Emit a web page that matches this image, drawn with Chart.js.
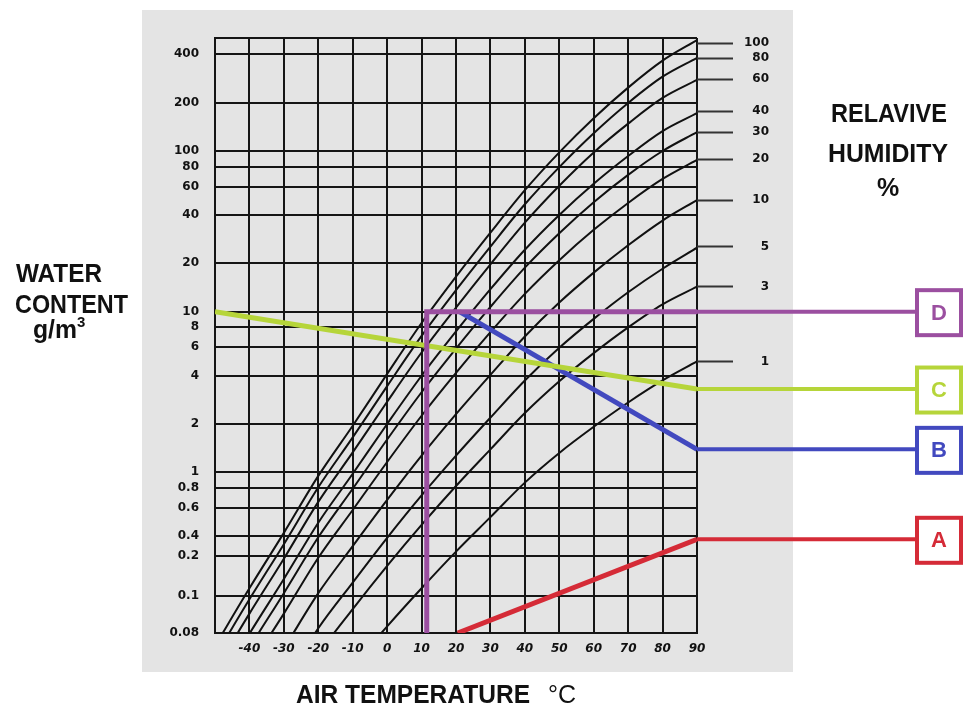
<!DOCTYPE html>
<html><head><meta charset="utf-8">
<script src="https://cdn.jsdelivr.net/npm/chart.js@4/dist/chart.umd.min.js"></script>
<style>html,body{margin:0;padding:0;background:#fff}#wrap{width:964px;height:709px;position:relative}</style>
</head><body><div id="wrap"><canvas id="c" width="964" height="709"></canvas></div>
<script>
// ---------- data ----------
const temperatureC = [-50,-40,-30,-20,-10,0,10,20,30,40,50,60,70,80,90];
const rh100 = [0.083,0.19,0.42,0.95,1.95,4.1,8.5,16.5,31,57,98,160,248,365,490];
const rh80  = [0.071,0.162,0.357,0.807,1.65,3.44,7.06,13.6,25.4,46.6,79.4,129,199,290,380];
const rh60  = [0.058,0.132,0.29,0.655,1.33,2.75,5.57,10.6,19.7,35.8,60.8,98,148,214,277];
const rh40  = [0.0437,0.099,0.217,0.486,0.98,2.0,3.99,7.53,13.8,24.3,40,62.5,93,133,172];
const rh30  = [0.0357,0.081,0.177,0.394,0.79,1.6,3.15,5.89,10.7,18.8,30.8,48,71,100,131];
const rh20  = [0.027,0.061,0.132,0.294,0.583,1.16,2.25,4.16,7.45,12.9,20.9,32.3,47.5,67,88];
const rh10  = [0.0166,0.037,0.08,0.177,0.347,0.673,1.27,2.3,4.04,7.01,11.4,17.5,25.9,36.9,49.5];
const rh5   = [0.0102,0.0226,0.0485,0.107,0.206,0.391,0.718,1.27,2.19,3.73,5.96,9.02,13.2,18.5,25];
const rh3   = [0.0071,0.0158,0.0337,0.0735,0.141,0.262,0.471,0.822,1.39,2.34,3.69,5.52,7.98,11.1,14.3];
const rh1   = [0.0033,0.0072,0.0152,0.033,0.0617,0.11,0.19,0.321,0.526,0.863,1.32,1.92,2.72,3.73,4.9];
const rhCurves = [rh100,rh80,rh60,rh40,rh30,rh20,rh10,rh5,rh3,rh1];

const rhLabels     = ['100','80','60','40','30','20','10','5','3','1'];
const rhTickValues = [470,379,280,177,131,89,49.5,25.3,14.3,4.87];

const yTickValues = [505,400,200,100,80,60,40,20,10,8,6,4,2,1,0.8,0.6,0.4,0.3,0.17,0.1];
const yTickLabels = ['','400','200','100','80','60','40','20','10','8','6','4','2','1','0.8','0.6','0.4','0.2','0.1','0.08'];
const xTickValues = [-50,-40,-30,-20,-10,0,10,20,30,40,50,60,70,80,90];
const xTickLabels = ['','-40','-30','-20','-10','0','10','20','30','40','50','60','70','80','90'];

// annotation paths A-D
const pathD_T = [11.5, 11.5, 90];   const pathD_W = [0.1, 10, 10];
const pathC_T = [-50, 90];          const pathC_W = [10, 3.3];
const pathB_T = [21, 90];           const pathB_W = [10, 1.39];
const pathA_T = [20.5, 90];         const pathA_W = [0.1, 0.383];
const annotationLetters = ['D','C','B','A'];
const annotationColors  = ['#9b4fa0','#b6d53a','#4249bf','#d52b37'];

// ---------- chart ----------
const toXY = (xs, ys) => xs.map((x,i)=>({x, y: ys[i]}));
const annotPaths = [toXY(pathD_T,pathD_W), toXY(pathC_T,pathC_W), toXY(pathB_T,pathB_W), toXY(pathA_T,pathA_W)];

const datasets = [];
annotPaths.forEach((p,i)=>datasets.push({
  data: p, borderColor: annotationColors[i], borderWidth: 5, pointRadius: 0,
  borderJoinStyle: 'miter', tension: 0, order: 0
}));
rhCurves.forEach(c=>datasets.push({
  data: toXY(temperatureC, c), borderColor: '#111', borderWidth: 2, pointRadius: 0,
  cubicInterpolationMode: 'monotone', order: 1
}));

const FONT_TICK = 'DejaVu Sans';
const bgPlugin = {
  id: 'bg',
  beforeDraw(chart){
    const ctx = chart.ctx;
    ctx.save();
    ctx.fillStyle = '#ffffff'; ctx.fillRect(0,0,chart.width,chart.height);
    ctx.fillStyle = '#e4e4e4'; ctx.fillRect(142,10,651,662);
    ctx.restore();
  }
};
const BOX_LEFT = 915;
const annotPlugin = {
  id: 'annotBoxes',
  afterDraw(chart){
    const ctx = chart.ctx, ca = chart.chartArea, ys = chart.scales.y;
    ctx.save();
    annotPaths.forEach((p,i)=>{
      const py = ys.getPixelForValue(p[p.length-1].y);
      const col = annotationColors[i];
      ctx.strokeStyle = col; ctx.lineWidth = 4;
      ctx.beginPath(); ctx.moveTo(ca.right, py); ctx.lineTo(BOX_LEFT, py); ctx.stroke();
      ctx.fillStyle = '#fff'; ctx.fillRect(BOX_LEFT+2, py-21.5, 44, 45);
      ctx.strokeRect(BOX_LEFT+2, py-21.5, 44, 45);
      ctx.fillStyle = col; ctx.font = 'bold 22px "Liberation Sans"';
      ctx.textAlign = 'center'; ctx.textBaseline = 'middle';
      ctx.fillText(annotationLetters[i], BOX_LEFT+24, py+2);
    });
    // titles
    ctx.fillStyle = '#111'; ctx.textBaseline = 'alphabetic';
    ctx.font = 'bold 25px "Liberation Sans"';
    ctx.textAlign = 'left';
    ctx.fillText('WATER', 16, 282, 86);
    ctx.fillText('CONTENT', 15, 313, 113);
    ctx.fillText('g/m', 33, 338, 44);
    ctx.font = 'bold 15px "Liberation Sans"';
    ctx.fillText('3', 77, 327);
    ctx.font = 'bold 25px "Liberation Sans"';
    ctx.textAlign = 'center';
    ctx.fillText('RELAVIVE', 889, 122, 116);
    ctx.fillText('HUMIDITY', 888, 162, 120);
    ctx.fillText('%', 888, 196);
    ctx.textAlign = 'left';
    ctx.fillText('AIR TEMPERATURE', 296, 703, 234);
    ctx.font = '25px "Liberation Sans"';
    ctx.fillText('°C', 548, 703);
    ctx.restore();
  }
};

new Chart(document.getElementById('c'), {
  type: 'line',
  data: { datasets },
  options: {
    responsive: false, animation: false, devicePixelRatio: 1,
    layout: { padding: { left: 140, right: 195, top: 38, bottom: 36 } },
    plugins: { legend: { display: false }, tooltip: { enabled: false } },
    scales: {
      x: {
        type: 'linear', min: -50, max: 90,
        afterBuildTicks: s => { s.ticks = xTickValues.map(v=>({value:v})); },
        afterFit: s => { s.height = 40; },
        ticks: { autoSkip: false, maxRotation: 0, padding: 9, color: '#111',
                 font: { family: FONT_TICK, weight: 'bold', style: 'italic', size: 12 },
                 callback: (v,i) => xTickLabels[i] },
        grid: { color: '#151515', lineWidth: 2, drawTicks: false },
        border: { color: '#151515', width: 2 }
      },
      y: {
        type: 'logarithmic', position: 'left', min: 0.1, max: 505,
        afterBuildTicks: s => { s.ticks = yTickValues.map(v=>({value:v})); },
        afterFit: s => { s.width = 75; },
        ticks: { autoSkip: false, padding: 16, color: '#111',
                 font: { family: FONT_TICK, weight: 'bold', size: 12 },
                 callback: (v,i) => yTickLabels[i] },
        grid: { color: '#151515', lineWidth: 2, drawTicks: false },
        border: { color: '#151515', width: 2 }
      },
      y2: {
        type: 'logarithmic', position: 'right', min: 0.1, max: 505,
        afterBuildTicks: s => { s.ticks = rhTickValues.map(v=>({value:v})); },
        afterFit: s => { s.width = 72; },
        ticks: { autoSkip: false, padding: 4, crossAlign: 'far', color: '#111',
                 font: { family: FONT_TICK, weight: 'bold', size: 12 },
                 callback: (v,i) => rhLabels[i] },
        grid: { drawOnChartArea: false, drawTicks: true, tickLength: 36, tickColor: '#333', tickWidth: 2 },
        border: { display: false }
      }
    }
  },
  plugins: [bgPlugin, annotPlugin]
});
</script></body></html>
